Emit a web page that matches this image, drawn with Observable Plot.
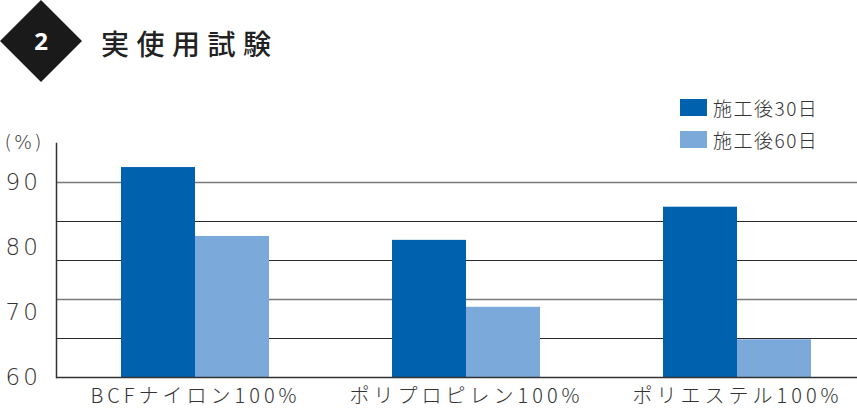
<!DOCTYPE html>
<html><head><meta charset="utf-8">
<script src="https://cdn.jsdelivr.net/npm/d3@7"></script>
<script src="https://cdn.jsdelivr.net/npm/@observablehq/plot@0.6"></script>
<style>
body{margin:0;background:#fff;font-family:"Noto Sans CJK JP","Noto Sans",sans-serif;}
#wrap{position:relative;width:857px;height:411px;overflow:hidden;}
#head{position:relative;height:85px;}
#diamond{position:absolute;left:12px;top:12px;width:58px;height:58px;background:#1a1a1a;transform:rotate(45deg);}
#num{position:absolute;left:0;top:24px;width:82px;text-align:center;color:#fff;font:700 24px "Noto Sans",sans-serif;}
#title{position:absolute;left:101px;top:23px;font:500 28px "Noto Sans CJK JP";letter-spacing:7.5px;color:#222;}
#legend{position:absolute;left:680px;top:91px;font:300 19px "Noto Sans CJK JP";color:#333;letter-spacing:1.5px;}
.li{display:flex;align-items:center;height:32px;}
.sw{width:27px;height:17px;margin-right:6px;}
svg text.tick{letter-spacing:3px;}
svg text.unit{letter-spacing:2px;}
svg text.cat{letter-spacing:4px;}
</style></head>
<body><div id="wrap">
<div id="head"><div id="diamond"></div><div id="num">2</div><div id="title">実使用試験</div></div>
<div id="legend"></div>
<div id="chart"></div>
</div>
<script>
const categories = ["BCFナイロン100%", "ポリプロピレン100%", "ポリエステル100%"];
const seriesNames = ["施工後30日", "施工後60日"];
const values30 = [92.3, 81.1, 86.2];
const values60 = [81.7, 70.8, 65.8];
const yTicks = [60, 70, 80, 90];
const gridDark = [66, 78, 84];
const gridGrey = [72, 90];
const yDomain = [60, 96];
const colors = ["#0061af", "#7aa9da"];

const data30 = categories.map((c, i) => ({cat: c, v: values30[i]}));
const data60 = categories.map((c, i) => ({cat: c, v: values60[i]}));

const leg = document.getElementById("legend");
seriesNames.forEach((s, i) => {
  const d = document.createElement("div"); d.className = "li";
  d.innerHTML = `<span class="sw" style="background:${colors[i]}"></span><span>${s}</span>`;
  leg.appendChild(d);
});

const numFont = "'DejaVu Sans', 'Noto Sans', sans-serif";
const chart = Plot.plot({
  width: 857, height: 326,
  marginTop: 58, marginBottom: 34, marginLeft: 56, marginRight: 0,
  x: {type: "band", domain: categories, range: [120, 812], paddingInner: 0.455, paddingOuter: 0, axis: null},
  y: {domain: yDomain, axis: null},
  style: {fontFamily: "'Noto Sans CJK JP', sans-serif", background: "transparent"},
  marks: [
    Plot.ruleY(gridGrey, {stroke: "#7a7a7a", strokeWidth: 1.3}),
    Plot.ruleY(gridDark, {stroke: "#2a2a2a", strokeWidth: 1.2}),
    Plot.barY(data30, {x: "cat", y1: yDomain[0], y2: "v", fill: colors[0], insetRight: 74}),
    Plot.barY(data60, {x: "cat", y1: yDomain[0], y2: "v", fill: colors[1], insetLeft: 74}),
    Plot.ruleY([yDomain[0]], {stroke: "#333", strokeWidth: 1.5}),
    Plot.frame({anchor: "left", stroke: "#333", strokeWidth: 1.5}),
    Plot.text(yTicks, {y: d => d, frameAnchor: "left", dx: -51, textAnchor: "start", fontSize: 23, fontWeight: 200, fill: "#333", fontFamily: numFont}),
    Plot.text(["(%)"], {frameAnchor: "top-left", dx: -52, dy: -8, textAnchor: "start", fontSize: 19, fontWeight: 200, fill: "#333", fontFamily: numFont}),
    Plot.text(categories, {x: d => d, frameAnchor: "bottom", dy: 25, fontSize: 20, fontWeight: 300, fill: "#333"})
  ]
});
d3.select(chart).selectAll("text").each(function() {
  const t = this.textContent;
  if (yTicks.map(String).includes(t)) this.setAttribute("class", "tick");
  else if (t === "(%)") this.setAttribute("class", "unit");
  else if (categories.includes(t)) this.setAttribute("class", "cat");
});
document.getElementById("chart").appendChild(chart);
</script>
</body></html>
